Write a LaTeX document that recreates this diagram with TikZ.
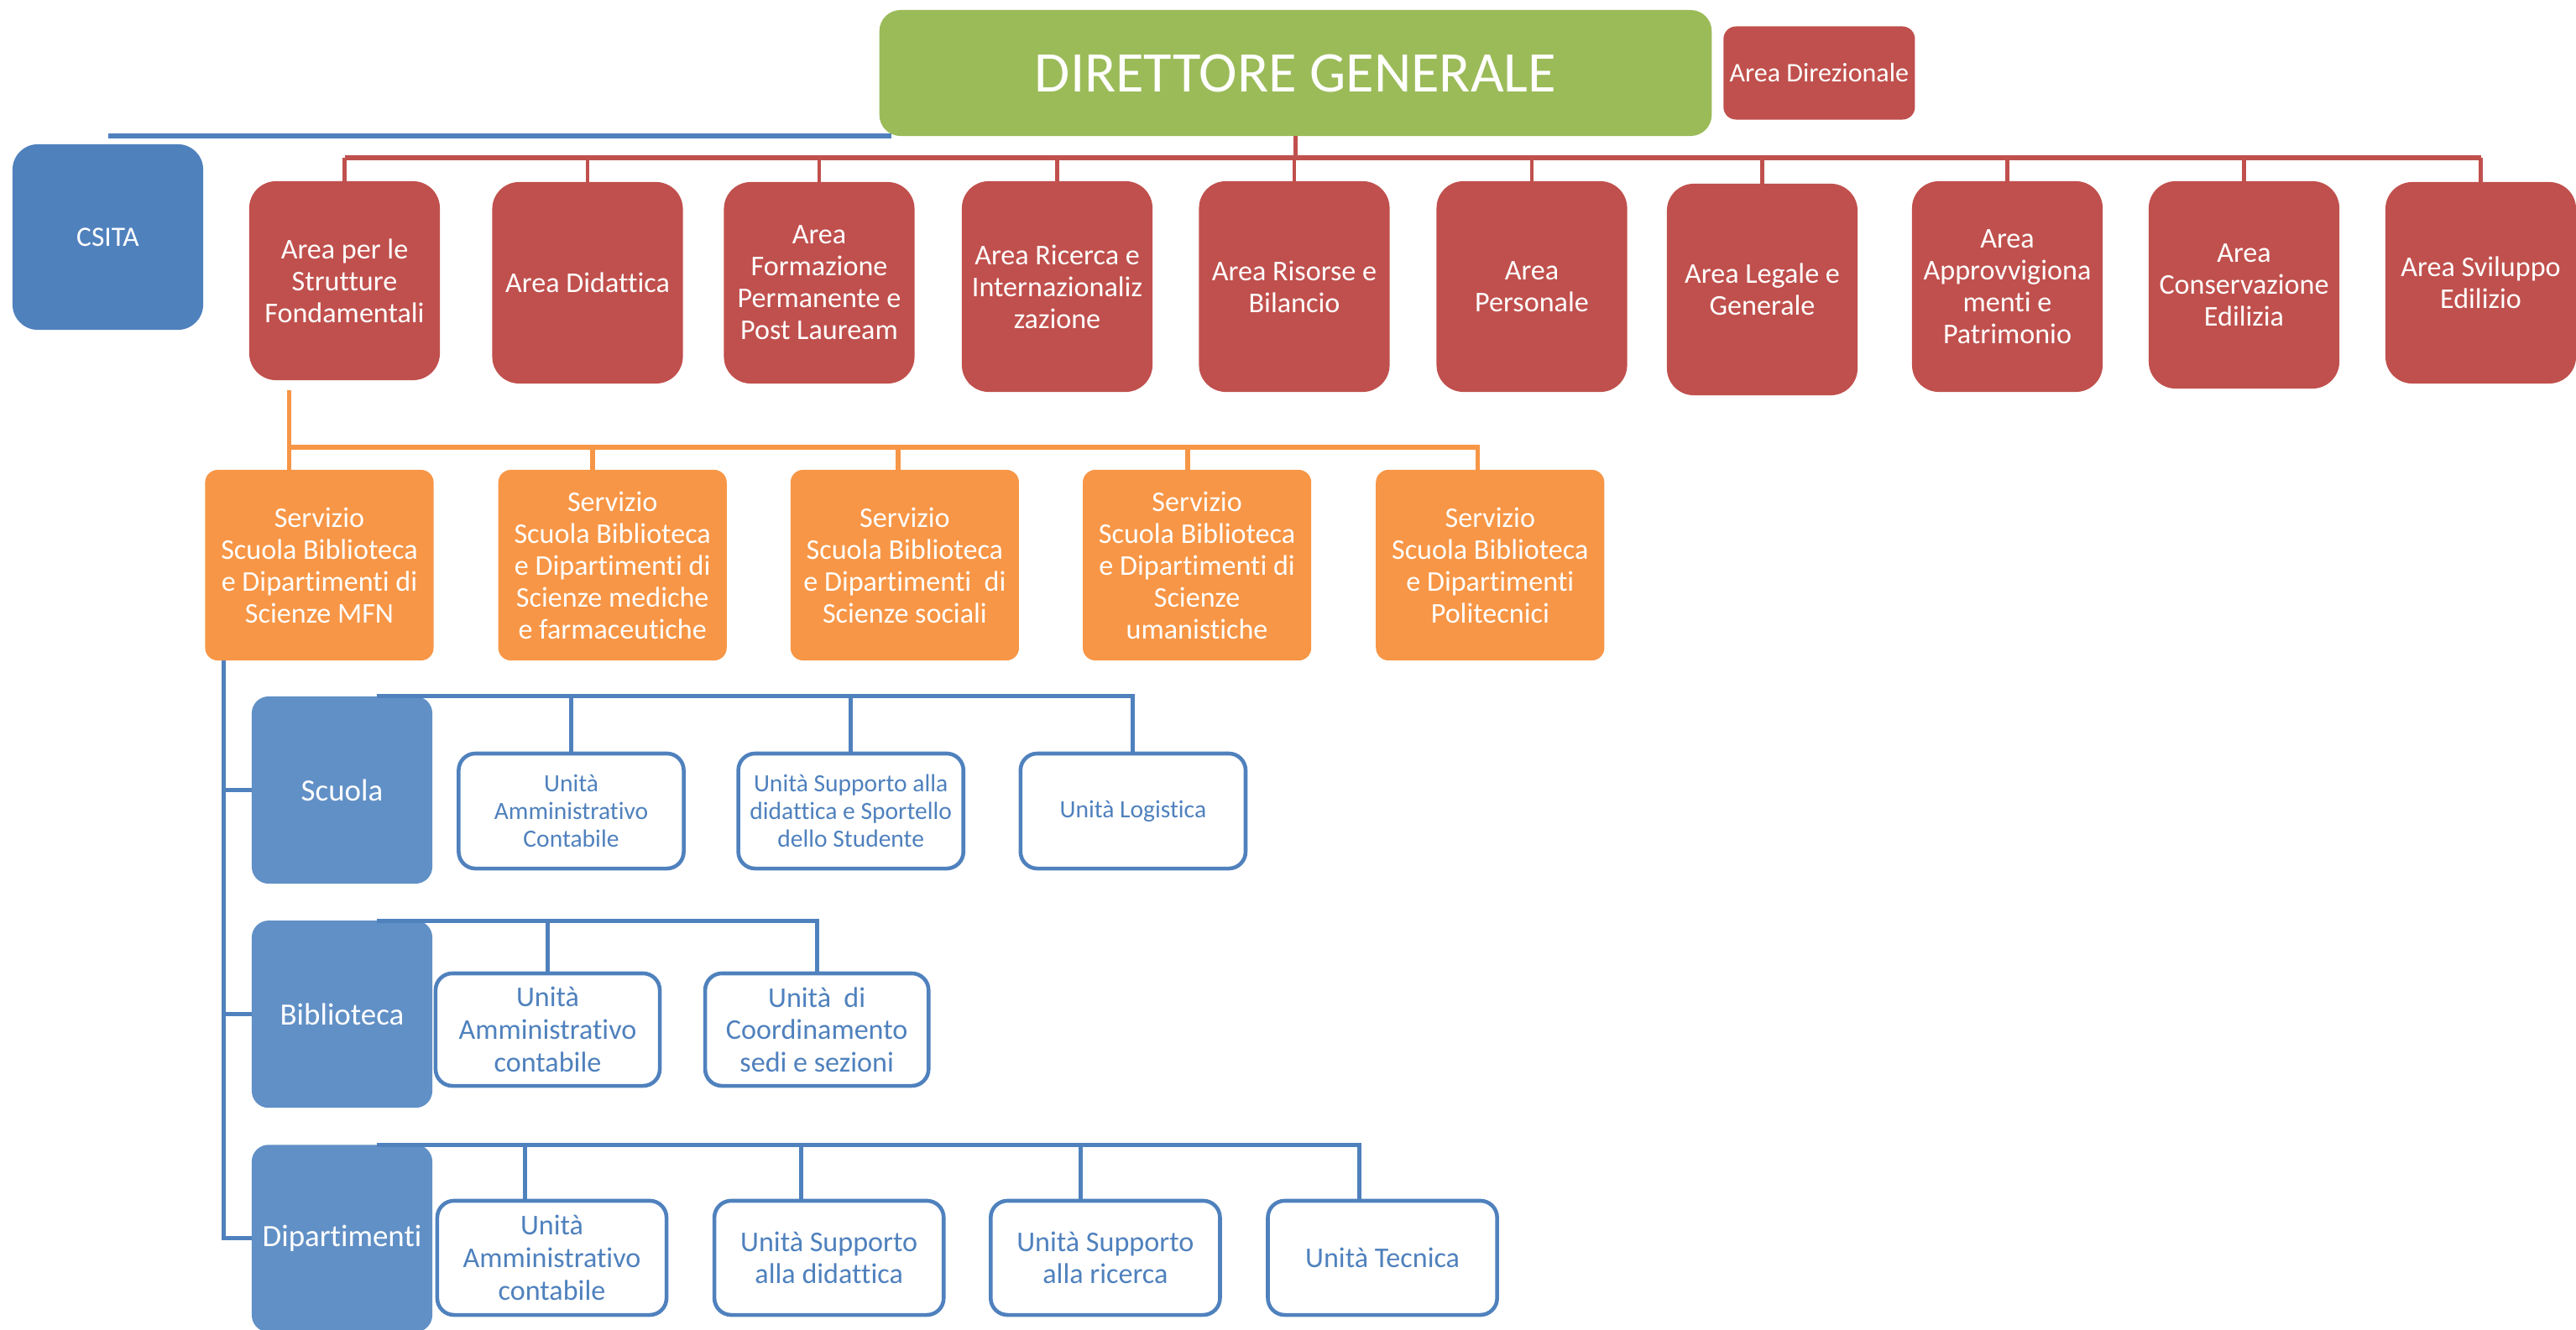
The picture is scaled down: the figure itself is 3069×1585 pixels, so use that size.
\documentclass[tikz,border=0pt]{standalone}
\usepackage{fontspec}
\setmainfont{Carlito}[Ligatures=NoCommon]
\usepackage{tikz}
\usetikzlibrary{positioning}
\definecolor{dgreen}{HTML}{9BBB59}
\definecolor{areared}{HTML}{C0504D}
\definecolor{servorange}{HTML}{F79646}
\definecolor{csitablue}{HTML}{4F81BD}
\definecolor{grpblue}{HTML}{6190C6}
\definecolor{unitblue}{HTML}{4F81BD}

\begin{document}
\begin{tikzpicture}[x=0.01cm,y=-0.01cm,
    box/.style={rectangle,inner sep=0pt,outer sep=0pt,align=center,text=white},
    dir/.style={box,fill=dgreen,rounded corners=0.25cm,minimum width=9.91cm,minimum height=1.5cm,font=\fontsize{19.5}{23}\selectfont},
    area/.style={box,fill=areared,rounded corners=0.32cm,minimum width=2.27cm,minimum height=2.4cm,font=\fontsize{9.7}{10.8}\selectfont},
    serv/.style={box,fill=servorange,rounded corners=0.15cm,minimum width=2.72cm,minimum height=2.27cm,font=\fontsize{9.7}{10.8}\selectfont},
    grp/.style={box,fill=grpblue,rounded corners=0.2cm,minimum width=2.15cm,minimum height=2.23cm,font=\fontsize{10.5}{12}\selectfont},
    unit/.style={box,draw=unitblue,line width=1.3pt,fill=white,text=unitblue,rounded corners=0.2cm,minimum width=2.68cm,minimum height=1.37cm,font=\fontsize{9.7}{11}\selectfont},
    rbus/.style={draw=areared,line width=1.7pt},
    rline/.style={draw=areared,line width=1.4pt},
    oline/.style={draw=servorange,line width=1.6pt},
    bline/.style={draw=unitblue,line width=1.4pt}]

      \useasboundingbox (0,0) rectangle (3069,1585);

      \node[dir] (dg) at (1543.5,87) {DIRETTORE GENERALE};
      \node[box,fill=areared,rounded corners=0.15cm,minimum width=2.28cm,minimum height=1.11cm,font=\fontsize{9.1}{11}\selectfont] (adir) [right=0.14cm of dg] {Area Direzionale};
      \node[box,fill=csitablue,rounded corners=0.3cm,minimum width=2.27cm,minimum height=2.21cm,font=\fontsize{9.5}{11}\selectfont] (csita) at (128.5,282.5) {CSITA};

      \node[area,minimum height=2.37cm] (a1) at (410.5,334.5) {Area per le\\Strutture\\Fondamentali};
      \node[area] (a2) at (700,337) {Area Didattica};
      \node[area] (a3) at (976,337) {Area\\Formazione\\Permanente e\\Post Lauream};
      \node[area,minimum height=2.51cm] (a4) at (1259.5,341.5) {Area Ricerca e\\Internazionaliz\\zazione};
      \node[area,minimum height=2.51cm] (a5) at (1542,341.5) {Area Risorse e\\Bilancio};
      \node[area,minimum height=2.51cm] (a6) at (1825,341.5) {Area\\Personale};
      \node[area,minimum height=2.52cm] (a7) at (2099.5,345) {Area Legale e\\Generale};
      \node[area,minimum height=2.51cm] (a8) at (2391.5,341.5) {Area\\Approvvigiona\\menti e\\Patrimonio};
      \node[area,minimum height=2.47cm] (a9) at (2673.5,339.5) {Area\\Conservazione\\Edilizia};
      \node[area] (a10) at (2955.5,337) {Area Sviluppo\\Edilizio};

      \node[serv] (s1) at (380.5,673.5) {Servizio\\Scuola Biblioteca\\e Dipartimenti di\\Scienze MFN};
      \node[serv] (s2) [right=0.77cm of s1] {Servizio\\Scuola Biblioteca\\e Dipartimenti di\\Scienze mediche\\e farmaceutiche};
      \node[serv] (s3) [right=0.76cm of s2] {Servizio\\Scuola Biblioteca\\e Dipartimenti~ di\\Scienze sociali};
      \node[serv] (s4) [right=0.76cm of s3] {Servizio\\Scuola Biblioteca\\e Dipartimenti di\\Scienze\\umanistiche};
      \node[serv] (s5) [right=0.77cm of s4] {Servizio\\Scuola Biblioteca\\e Dipartimenti\\Politecnici};

      \node[grp] (scuola) at (407.5,941.5) {Scuola};
      \node[grp] (bib) [below=0.44cm of scuola] {Biblioteca};
      \node[grp] (dip) [below=0.44cm of bib] {Dipartimenti};

      \node[unit,font=\fontsize{8.4}{9.4}\selectfont] (u1) at (680.5,966.5) {Unità\\Amministrativo\\Contabile};
      \node[unit,font=\fontsize{8.4}{9.4}\selectfont] (u2) [right=0.65cm of u1] {Unità Supporto alla\\didattica e Sportello\\dello Studente};
      \node[unit,font=\fontsize{8.4}{9.4}\selectfont] (u3) [right=0.68cm of u2] {Unità Logistica};

      \node[unit,minimum width=2.67cm,minimum height=1.34cm] (b1) at (652.5,1227) {Unità\\Amministrativo\\contabile};
      \node[unit,minimum width=2.66cm,minimum height=1.34cm] (b2) [right=0.54cm of b1] {Unità~ di\\Coordinamento\\sedi e sezioni};

      \node[unit,minimum width=2.73cm,minimum height=1.36cm] (d1) at (657.5,1499) {Unità\\Amministrativo\\contabile};
      \node[unit,minimum width=2.73cm,minimum height=1.36cm] (d2) [right=0.57cm of d1] {Unità Supporto\\alla didattica};
      \node[unit,minimum width=2.73cm,minimum height=1.36cm] (d3) [right=0.56cm of d2] {Unità Supporto\\alla ricerca};
      \node[unit,minimum width=2.73cm,minimum height=1.36cm] (d4) [right=0.57cm of d3] {Unità Tecnica};

      \draw[bline,line width=1.5pt] (csita.north |- dg.south) -- ([xshift=0.14cm]dg.south west);

      \draw[rline] (dg.south) -- ++(0,26) coordinate (rb);
      \draw[rbus] (a1.north |- rb) -- (a10.north |- rb);
      \draw[rline]
      (a1.north |- rb) -- (a1.north) (a2.north |- rb) -- (a2.north)
      (a3.north |- rb) -- (a3.north) (a4.north |- rb) -- (a4.north)
      (a5.north |- rb) -- (a5.north) (a6.north |- rb) -- (a6.north)
      (a7.north |- rb) -- (a7.north) (a8.north |- rb) -- (a8.north)
      (a9.north |- rb) -- (a9.north) (a10.north |- rb) -- (a10.north);

      \coordinate (o1) at ([xshift=-0.36cm]s1.north);
      \coordinate (o2) at ([xshift=-0.24cm]s2.north);
      \coordinate (o3) at ([xshift=-0.08cm]s3.north);
      \coordinate (o4) at ([xshift=-0.11cm]s4.north);
      \coordinate (o5) at ([xshift=-0.15cm]s5.north);
      \coordinate (obus) at ([yshift=0.27cm]s1.north);
      \draw[oline] ([yshift=-0.12cm]a1.south -| o1) -- (o1);
      \draw[oline] (o1 |- obus) -| (o5);
      \draw[oline] (o2 |- obus) -- (o2) (o3 |- obus) -- (o3) (o4 |- obus) -- (o4);

      \coordinate (trunk) at ([xshift=0.22cm]s1.south west);
      \draw[bline] (trunk) |- (dip.west);
      \draw[bline] (trunk |- scuola.west) -- (scuola.west) (trunk |- bib.west) -- (bib.west);

      \draw[bline] ([xshift=0.41cm]scuola.north) -| (u3.north);
      \draw[bline] (u1.north |- scuola.north) -- (u1.north) (u2.north |- scuola.north) -- (u2.north);

      \draw[bline] ([xshift=0.41cm]bib.north) -| (b2.north);
      \draw[bline] (b1.north |- bib.north) -- (b1.north);

      \coordinate (p1) at ([xshift=-0.32cm]d1.north);
      \coordinate (p2) at ([xshift=-0.33cm]d2.north);
      \coordinate (p3) at ([xshift=-0.29cm]d3.north);
      \coordinate (p4) at ([xshift=-0.28cm]d4.north);
      \draw[bline] ([xshift=0.41cm]dip.north) -| (p4);
      \draw[bline] (p1 |- dip.north) -- (p1) (p2 |- dip.north) -- (p2) (p3 |- dip.north) -- (p3);
    \end{tikzpicture}
\end{document}
